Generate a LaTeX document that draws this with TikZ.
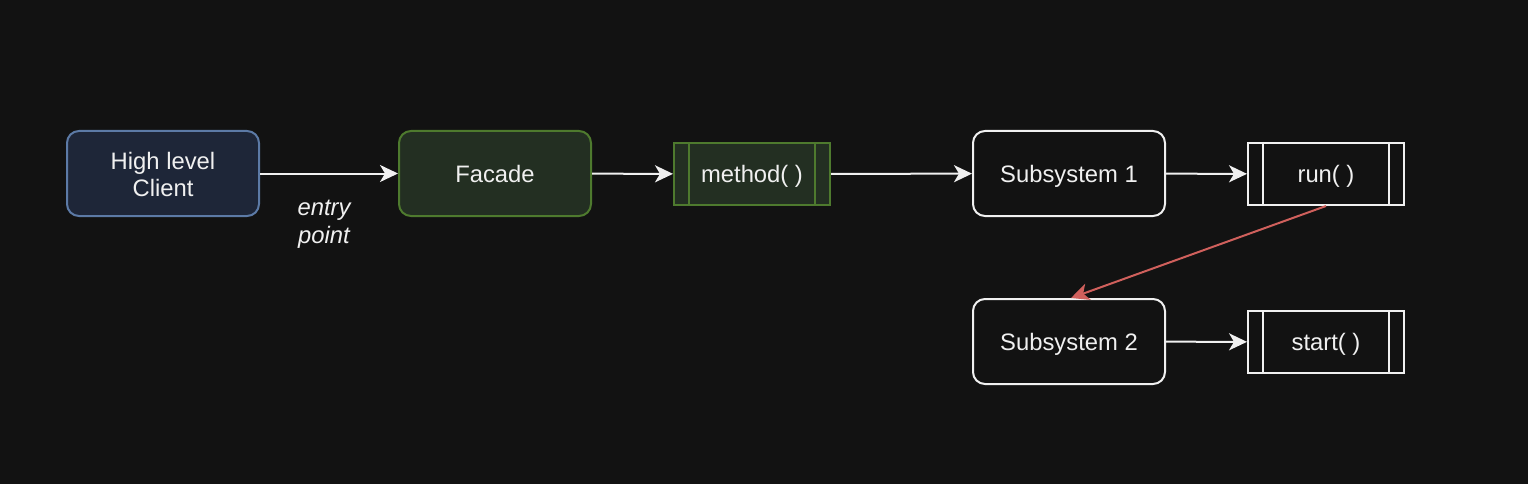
\documentclass[tikz,border=0pt]{standalone}
\usepackage{fontspec}
\setmainfont{Liberation Sans}
\usetikzlibrary{arrows.meta}
\definecolor{bg}{HTML}{121212}
\definecolor{txt}{HTML}{F0F0F0}
\definecolor{blueFill}{HTML}{1E2638}
\definecolor{blueLine}{HTML}{5C7AA6}
\definecolor{greenFill}{HTML}{232F22}
\definecolor{greenLine}{HTML}{4E7A2E}
\definecolor{redLine}{HTML}{D0605C}
\tikzset{
  base/.style={draw, line width=2pt, text=txt, align=center,
    font=\fontsize{23.8}{27}\selectfont, inner sep=0pt, text depth=0pt, text height=17.6pt},
  roundbox/.style={base, rounded corners=12pt, minimum width=192pt, minimum height=85pt},
  procbox/.style={base, minimum width=156pt, minimum height=62pt},
  conn/.style={draw=txt, line width=2pt, -{Stealth[length=18pt,width=17pt,inset=5pt]}},
}
\begin{document}
\begin{tikzpicture}[x=1pt,y=-1pt]
\fill[bg] (0,0) rectangle (1528,484);
\useasboundingbox (0,0) rectangle (1528,484);
\node[roundbox, fill=blueFill, draw=blueLine, text height=45pt, text depth=0pt] (client) at (163,173.5) {High level\\Client};
\node[roundbox, fill=greenFill, draw=greenLine] (facade) at (495,173.5) {Facade};
\node[procbox, fill=greenFill, draw=greenLine] (method) at (752,174) {method( )};
\node[roundbox, fill=bg, draw=txt] (sub1) at (1069,173.5) {Subsystem 1};
\node[procbox, fill=bg, draw=txt] (run) at (1326,174) {run( )};
\node[roundbox, fill=bg, draw=txt] (sub2) at (1069,341.5) {Subsystem 2};
\node[procbox, fill=bg, draw=txt] (start) at (1326,342) {start( )};
\foreach \n/\c in {method/greenLine, run/txt, start/txt}{
  \draw[\c, line width=2pt] ([xshift=16pt]\n.north west) -- ([xshift=16pt]\n.south west);
  \draw[\c, line width=2pt] ([xshift=-16pt]\n.north east) -- ([xshift=-16pt]\n.south east);
}
\node[text=txt, align=center, font=\fontsize{23.8}{28}\selectfont\itshape, inner sep=0pt] (entry) at (324,224) {entry\\point};
\draw[conn] (client) -- (facade);
\draw[conn] (facade) -- (method);
\draw[conn] (method) -- (sub1);
\draw[conn] (sub1) -- (run);
\draw[conn] (sub2) -- (start);
\draw[conn, draw=redLine, fill=redLine] (run.south) -- ([xshift=2pt]sub2.north);
\end{tikzpicture}
\end{document}
